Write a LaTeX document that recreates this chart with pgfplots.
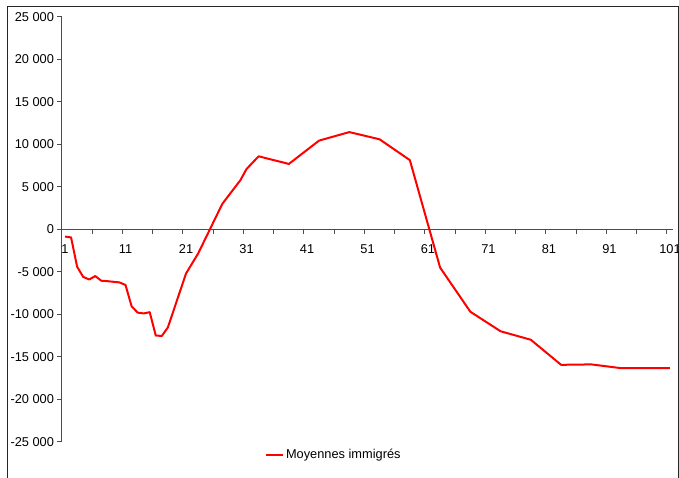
\documentclass[border=0pt]{standalone}
\usepackage{pgfplots}
\pgfplotsset{compat=1.18}
\usepackage{fontspec}
\setmainfont{Liberation Sans}

\begin{document}
\begin{tikzpicture}
\useasboundingbox (0,0) rectangle (679pt,478pt);
\draw[black!85, line width=0.9pt] (7.5pt,-5pt) rectangle (678pt,472pt);
\begin{axis}[
    at={(62pt,36.3pt)}, anchor=south west,
    scale only axis, width=611pt, height=424.7pt,
    xmin=0.5, xmax=101.5, ymin=-25000, ymax=25000,
    scaled y ticks=false, scaled x ticks=false,
    axis x line*=middle, axis y line*=left,
    axis line style={black!70, line width=1pt},
    every tick/.style={black!70, line width=1pt},
    tick align=outside, major tick length=4.5pt,
    xtick={0.5,5.5,...,100.5}, xticklabels={},
    extra x ticks={1,11,21,31,41,51,61,71,81,91,101},
    extra x tick labels={1,11,21,31,41,51,61,71,81,91,101},
    extra x tick style={major tick length=0pt, xticklabel style={yshift=-12pt}},
    ytick={-25000,-20000,...,25000},
    yticklabels={-25 000,-20 000,-15 000,-10 000,-5 000,0,5 000,10 000,15 000,20 000,25 000},
    tick label style={font=\fontsize{12.8}{14}\selectfont, black},
    legend style={draw=none, fill=none, at={(0.332,-0.031)}, anchor=west,
        inner sep=0pt, font=\fontsize{12.8}{14}\selectfont},
    legend image code/.code={\draw[#1] (0pt,0pt) -- (17pt,0pt);},
]
\addplot[red, line width=2pt, line join=round] coordinates {
    (1,-850) (2,-950) (3,-4400) (4,-5600) (5,-5900) (6,-5500) (7,-6050)
    (8,-6100) (10,-6250) (11,-6550) (12,-9050) (13,-9800) (14,-9900)
    (15,-9750) (16,-12500) (17,-12550) (18,-11550) (21,-5200) (23,-2850)
    (27,3000) (30,5800) (31,7100) (33,8600) (38,7700) (43,10450)
    (48,11450) (53,10600) (58,8150) (63,-4500) (68,-9700) (73,-12000)
    (78,-13000) (83,-15950) (88,-15900) (93,-16350) (101,-16350)
};
\addlegendentry{Moyennes immigrés}
\end{axis}
\end{tikzpicture}
\end{document}
